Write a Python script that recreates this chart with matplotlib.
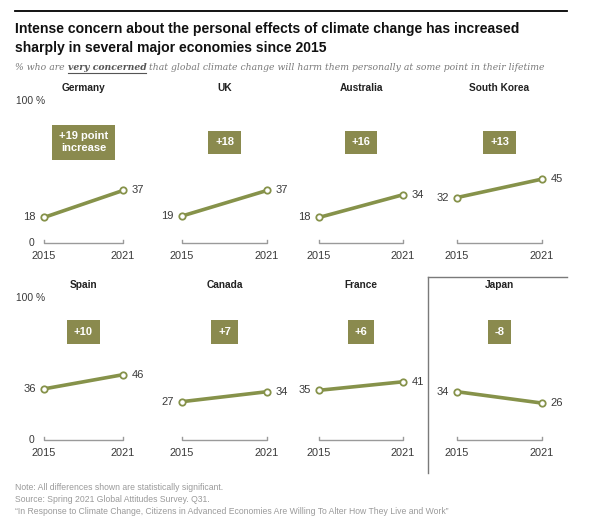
import matplotlib.pyplot as plt
from matplotlib.lines import Line2D

# Data
countries = ["Germany", "UK", "Australia", "South Korea",
             "Spain", "Canada", "France", "Japan"]
years = ["2015", "2021"]
v2015 = [18, 19, 18, 32, 36, 27, 35, 34]
v2021 = [37, 37, 34, 45, 46, 34, 41, 26]
change_labels = ["+19 point\nincrease", "+18", "+16", "+13",
                 "+10", "+7", "+6", "-8"]

W, H = 606, 521
fig = plt.figure(figsize=(W / 100, H / 100), dpi=100)
fig.patch.set_facecolor("white")

LINE = "#86924a"
BOX = "#8a8a4e"
TXT = "#3a3a3a"
NUM = ["Liberation Sans", "DejaVu Sans"]

# pixel geometry of each panel: x of 2015 / 2021 points, y of 0 / 100
cols = [(44, 123), (182, 267), (319, 403), (457, 542)]
rows = [(243, 101), (440, 298)]


def px_rect(x0, x1, y0, y100):
    return [x0 / W, 1 - y0 / H, (x1 - x0) / W, (y0 - y100) / H]


for i, name in enumerate(countries):
    r, c = divmod(i, 4)
    x0, x1 = cols[c]
    y0, y100 = rows[r]
    ax = fig.add_axes(px_rect(x0, x1, y0, y100))
    ax.set_xlim(0, 1)
    ax.set_ylim(0, 100)
    ax.axis("off")

    # baseline with end ticks
    ax.plot([0, 0, 1, 1], [2.2, 0, 0, 2.2], color="#9a9a9a", lw=1,
            clip_on=False)
    for xx, yr in zip([0, 1], years):
        ax.annotate(yr, (xx, 0), xytext=(0, -9), textcoords="offset points",
                    ha="center", va="center", fontsize=7.9, color=TXT,
                    family=NUM)

    ax.plot([0, 1], [v2015[i], v2021[i]], color=LINE, lw=2.6,
            solid_capstyle="round", clip_on=False, zorder=2)
    ax.plot([0, 1], [v2015[i], v2021[i]], ls="none", marker="o", ms=4.6,
            mfc="white", mec=LINE, mew=1.3, clip_on=False, zorder=3)

    ax.annotate(str(v2015[i]), (0, v2015[i]), xytext=(-6, 0),
                textcoords="offset points", ha="right", va="center",
                fontsize=8, color=TXT, family=NUM)
    ax.annotate(str(v2021[i]), (1, v2021[i]), xytext=(6, 0),
                textcoords="offset points", ha="left", va="center",
                fontsize=8, color=TXT, family=NUM)

    ax.text(0.5, 109, name, ha="center", va="center", fontsize=7.3,
            fontweight="bold", color="#222222", family=NUM)

    box_y = 71 if r == 0 else 76
    ax.text(0.5, box_y, change_labels[i], ha="center", va="center",
            fontsize=8, fontweight="bold", color="white", family=NUM,
            linespacing=1.25,
            bbox=dict(boxstyle="square,pad=0.6", fc=BOX, ec="none"))

    if c == 0:
        ax.annotate("100 %", (0, 100), xytext=(1, 0),
                    textcoords="offset points", ha="right", va="center",
                    fontsize=7.4, color=TXT, family=NUM)
        ax.annotate("0", (0, 0), xytext=(-7, 0),
                    textcoords="offset points", ha="right", va="center",
                    fontsize=7.4, color=TXT, family=NUM)

# frame around Japan panel and top rule
fig.add_artist(Line2D([428 / W, 567 / W], [1 - 277 / H, 1 - 277 / H],
                      color="#7a7a7a", lw=1))
fig.add_artist(Line2D([428 / W, 428 / W], [1 - 277 / H, 1 - 473 / H],
                      color="#7a7a7a", lw=1))
fig.add_artist(Line2D([15 / W, 567 / W], [1 - 11 / H, 1 - 11 / H],
                      color="black", lw=1.3))

# title
fig.text(15 / W, 1 - 29 / H,
         "Intense concern about the personal effects of climate change has increased",
         fontsize=10.1, fontweight="bold", color="#111111", family=NUM,
         va="center")
fig.text(15 / W, 1 - 48 / H,
         "sharply in several major economies since 2015",
         fontsize=10.1, fontweight="bold", color="#111111", family=NUM,
         va="center")

# subtitle in three pieces
fig.canvas.draw()
rend = fig.canvas.get_renderer()
sub_y = 1 - 68 / H
serif = ["DejaVu Serif"]
t1 = fig.text(15 / W, sub_y, "% who are", fontsize=6.65, style="italic",
              color="#7a7a7a", family=serif, va="center")
bb1 = t1.get_window_extent(rend)
t2 = fig.text((bb1.x1 + 3) / W, sub_y, "very concerned", fontsize=6.65,
              style="italic", fontweight="bold", color="#555555",
              family=serif, va="center")
bb2 = t2.get_window_extent(rend)
fig.add_artist(Line2D([bb2.x0 / W, bb2.x1 / W],
                      [(bb2.y0 - 0.5) / H, (bb2.y0 - 0.5) / H],
                      color="#555555", lw=0.8))
fig.text((bb2.x1 + 3) / W, sub_y,
         "that global climate change will harm them personally at some point in their lifetime",
         fontsize=6.65, style="italic", color="#7a7a7a", family=serif,
         va="center")

# footnotes
notes = ["Note: All differences shown are statistically significant.",
         "Source: Spring 2021 Global Attitudes Survey. Q31.",
         "\u201cIn Response to Climate Change, Citizens in Advanced Economies Are Willing To Alter How They Live and Work\u201d"]
for k, line in enumerate(notes):
    fig.text(15 / W, 1 - (488 + 11.5 * k) / H, line, fontsize=6.2,
             color="#9a9a9a", family=NUM, va="center")

fig.savefig("out.png", dpi=100, facecolor="white")
